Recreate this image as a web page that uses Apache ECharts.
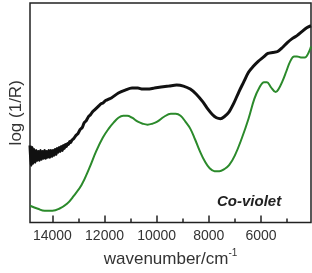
<!DOCTYPE html>
<html><head><meta charset="utf-8">
<script src="https://cdn.jsdelivr.net/npm/echarts@6/dist/echarts.min.js"></script>
<style>html,body{margin:0;padding:0;background:#fff}#c{width:312px;height:273px}</style>
</head><body><div id="c"></div>
<script>
// black spectrum: wavenumber (cm-1) and log(1/R) (arbitrary units)
const blackWn = [14860,14820,14780,14740,14700,14660,14620,14580,14540,14500,14460,14420,14380,14340,14300,14260,14220,14180,14140,14100,14060,14020,13980,13940,13900,13860,13820,13780,13740,13700,13660,13620,13580,13540,13500,13460,13420,13380,13340,13300,
  13260,13180,13100,13020,12940,12860,12780,12700,12620,12540,12460,12380,12300,12220,12140,12060,11980,11900,11820,11740,
  11468,11207,10946,10723,10537,10350,10090,9829,9531,9233,8973,8712,8488,8228,8042,7855,7706,7557,7409,7222,7036,6850,6664,6477,6291,6105,5919,5733,5547,5360,5174,4988,4802,4616,4430,4243,4080];
const blackVal = [78,58,76,60,74,61,73,63,72,63,73,64,72,65,73,65,72,66,73,66,73,67,73,68,74,69,75,71,76,72,77,73,78,75,79,77,80,79,82,81,
  83,85,88,90,94,96,101,103,107,109,112,114,116,118,120,121,123,124,125,126,
  131,134,136,136,135,135,136,137,138,139,138,135,130,122,115,109,106,105,107,112,121,132,142,152,158,163,167,171,172,173,177,182,186,189,193,197,199];
// green spectrum
const greenWn = [14857,14559,14298,14000,13739,13441,13181,12883,12585,12324,12064,11840,11654,11468,11281,11132,10946,10723,10537,10350,10164,9978,9717,9457,9270,9084,8898,8712,8526,8340,8154,7967,7781,7595,7409,7222,6999,6738,6477,6254,6068,5882,5770,5621,5435,5323,5174,5025,4877,4727,4616,4467,4318,4169,4080];
const greenVal = [17,14,12,12,14,19,27,38,55,72,86,95,101,106,108,108,106,102,100,99,100,102,107,110,110,108,102,95,84,72,62,55,52,52,54,58,68,85,105,125,136,142,142,137,132,135,143,153,163,168,168,167,167,172,178];
const majorTicks = [14000,12000,10000,8000,6000];
const minorTicks = [13000,11000,9000,7000,5000];

const pair = (a,b)=>a.map((v,i)=>[v,b[i]]);
const chart = echarts.init(document.getElementById('c'));
const font = '"Liberation Sans", Arial, sans-serif';
chart.setOption({
  animation:false,
  grid:{left:22,top:3,right:1,bottom:48,show:true,borderColor:'#222',borderWidth:1.5,backgroundColor:'transparent'},
  xAxis:[{
    type:'value',min:4080,max:14860,inverse:true,
    axisLine:{show:false},splitLine:{show:false},
    axisTick:{show:true,inside:true,length:7,customValues:majorTicks,lineStyle:{color:'#222',width:1.5}},
    axisLabel:{show:true,customValues:majorTicks,formatter:v=>String(v),fontFamily:font,fontSize:14,color:'#333',margin:7},
    name:'{a|wavenumber/cm}{s|-1}',nameLocation:'middle',nameGap:22,
    nameTextStyle:{fontFamily:font,fontSize:17,color:'#333',rich:{a:{fontFamily:font,fontSize:17,color:'#333'},s:{fontFamily:font,fontSize:10,color:'#333',verticalAlign:'top',padding:[0,0,12,0]}}}
  },{
    type:'value',min:4080,max:14860,inverse:true,position:'bottom',
    axisLine:{show:false},splitLine:{show:false},
    axisTick:{show:true,inside:true,length:4,customValues:minorTicks,lineStyle:{color:'#222',width:1.5}},
    axisLabel:{show:false}
  }],
  yAxis:{type:'value',min:0,max:222,axisLine:{show:false},axisTick:{show:false},axisLabel:{show:false},splitLine:{show:false},
    name:'log (1/R)',nameLocation:'middle',nameGap:5,nameTextStyle:{fontFamily:font,fontSize:17,color:'#333'}},
  series:[
    {type:'line',data:pair(blackWn,blackVal),showSymbol:false,smooth:0.3,lineStyle:{color:'#111',width:3},z:3},
    {type:'line',data:pair(greenWn,greenVal),showSymbol:false,smooth:0.4,lineStyle:{color:'#2b8a2b',width:2},z:2}
  ],
  graphic:[{type:'text',left:217,top:194,style:{text:'Co-violet',font:'italic bold 15px "Liberation Sans", Arial, sans-serif',fill:'#222'}}]
});
</script></body></html>
